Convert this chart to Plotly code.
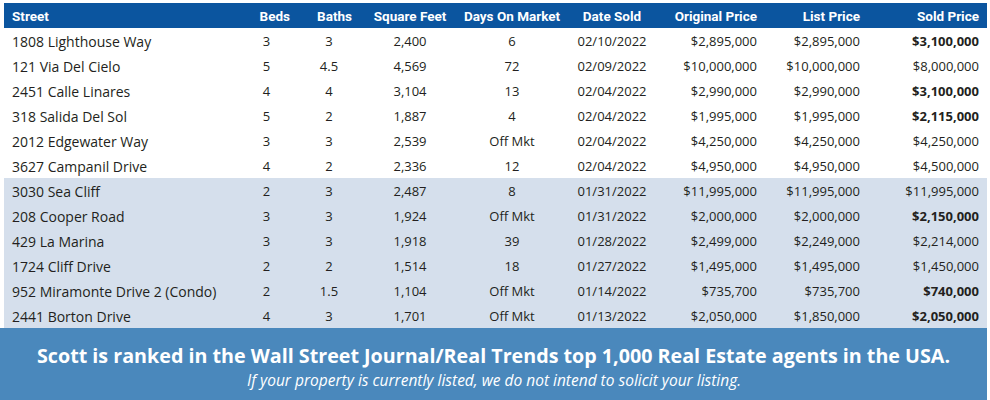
import plotly.graph_objects as go

# ---- table data ----
headers = ["Street", "Beds", "Baths", "Square Feet", "Days On Market",
           "Date Sold", "Original Price", "List Price", "Sold Price"]

streets = ["1808 Lighthouse Way", "121 Via Del Cielo", "2451 Calle Linares",
           "318 Salida Del Sol", "2012 Edgewater Way", "3627 Campanil Drive",
           "3030 Sea Cliff", "208 Cooper Road", "429 La Marina", "1724 Cliff Drive",
           "952 Miramonte Drive 2 (Condo)", "2441 Borton Drive"]
beds = ["3", "5", "4", "5", "3", "4", "2", "3", "3", "2", "2", "4"]
baths = ["3", "4.5", "4", "2", "3", "2", "3", "3", "3", "2", "1.5", "3"]
sq_feet = ["2,400", "4,569", "3,104", "1,887", "2,539", "2,336",
           "2,487", "1,924", "1,918", "1,514", "1,104", "1,701"]
days_on_market = ["6", "72", "13", "4", "Off Mkt", "12",
                  "8", "Off Mkt", "39", "18", "Off Mkt", "Off Mkt"]
date_sold = ["02/10/2022", "02/09/2022", "02/04/2022", "02/04/2022", "02/04/2022",
             "02/04/2022", "01/31/2022", "01/31/2022", "01/28/2022", "01/27/2022",
             "01/14/2022", "01/13/2022"]
original_price = ["$2,895,000", "$10,000,000", "$2,990,000", "$1,995,000",
                  "$4,250,000", "$4,950,000", "$11,995,000", "$2,000,000",
                  "$2,499,000", "$1,495,000", "$735,700", "$2,050,000"]
list_price = ["$2,895,000", "$10,000,000", "$2,990,000", "$1,995,000",
              "$4,250,000", "$4,950,000", "$11,995,000", "$2,000,000",
              "$2,249,000", "$1,495,000", "$735,700", "$1,850,000"]
sold_price = ["$3,100,000", "$8,000,000", "$3,100,000", "$2,115,000",
              "$4,250,000", "$4,500,000", "$11,995,000", "$2,150,000",
              "$2,214,000", "$1,450,000", "$740,000", "$2,050,000"]
sold_over = [True, False, True, True, False, False,
             False, True, False, False, True, True]
recent_rows = 6  # first rows drawn on white, the rest on light blue

banner_title = "Scott is ranked in the Wall Street Journal/Real Trends top 1,000 Real Estate agents in the USA."
banner_note = "If your property is currently listed, we do not intend to solicit your listing."

# ---- styling ----
HEADER_BLUE = "#0b559f"
ROW_BLUE = "#d5dfec"
BANNER_BLUE = "#4a88bc"
TEXT = "#231f20"
CLEAR = "rgba(0,0,0,0)"
W, H = 990, 400

n_rows = len(streets)
row_fill = ["white" if i < recent_rows else ROW_BLUE for i in range(n_rows)]

# plain sold prices go in the main table, the bold ones in an overlay table
sold_plain = ["" if b else p for p, b in zip(sold_price, sold_over)]
sold_bold = [p if b else "" for p, b in zip(sold_price, sold_over)]
columns = [streets, beds, baths, sq_feet, days_on_market, date_sold,
           original_price, list_price, sold_plain]
blank = [""] * n_rows
overlay_columns = [blank] * 8 + [sold_bold]

# non-breaking spaces keep the table from wrapping the headings
header_text = [h.replace(" ", "\u00a0") for h in headers]

domain = dict(x=[4 / W, 987 / W], y=[1 - 328 / H, 1 - 3 / H])
col_widths = [231, 63, 62, 100, 104, 96, 105, 103, 119]
cell_align = ["left", "center", "center", "center", "center", "center",
              "right", "right", "right"]
cell_sizes = [14] + [13] * 8

fig = go.Figure()
fig.add_trace(go.Table(
    domain=domain,
    columnwidth=col_widths,
    header=dict(
        values=header_text,
        fill_color=HEADER_BLUE,
        line=dict(color=HEADER_BLUE, width=0),
        align=["left", "right", "right", "center", "center", "center",
               "right", "right", "right"],
        font=dict(family="Roboto", size=13.5, color="white", weight="bold"),
        height=25,
    ),
    cells=dict(
        values=columns,
        fill_color=[row_fill] * len(columns),
        line=dict(color=[row_fill] * len(columns), width=0),
        align=cell_align,
        font=dict(family="Open Sans", size=cell_sizes, color=TEXT),
        height=25,
    ),
))
fig.add_trace(go.Table(
    domain=domain,
    columnwidth=col_widths,
    header=dict(values=[""] * len(headers), fill_color=CLEAR,
                line=dict(color=CLEAR, width=0), height=25),
    cells=dict(
        values=overlay_columns,
        fill_color=CLEAR,
        line=dict(color=CLEAR, width=0),
        align=cell_align,
        font=dict(family="Open Sans", size=13, color=TEXT, weight="bold"),
        height=25,
    ),
))

# bottom banner
fig.add_shape(type="rect", xref="paper", yref="paper",
              x0=0, x1=987 / W, y0=0, y1=1 - 328 / H,
              fillcolor=BANNER_BLUE, line=dict(width=0), layer="below")
fig.add_annotation(text=f"<b>{banner_title}</b>", xref="paper", yref="paper",
                   x=493.5 / W, y=1 - 355 / H, yanchor="middle", showarrow=False,
                   font=dict(family="Open Sans", size=19.7, color="white"))
fig.add_annotation(text=f"<i>{banner_note}</i>", xref="paper", yref="paper",
                   x=493.5 / W, y=1 - 380 / H, yanchor="middle", showarrow=False,
                   font=dict(family="Open Sans", size=15.5, color="white"))

fig.update_layout(width=W, height=H, margin=dict(l=0, r=0, t=0, b=0),
                  paper_bgcolor="white", plot_bgcolor="white")

# drop the browser's default page margin so the figure sits at the corner
fig.write_html("out.html", config={"displayModeBar": False},
               post_script="document.body.style.margin='0';")
